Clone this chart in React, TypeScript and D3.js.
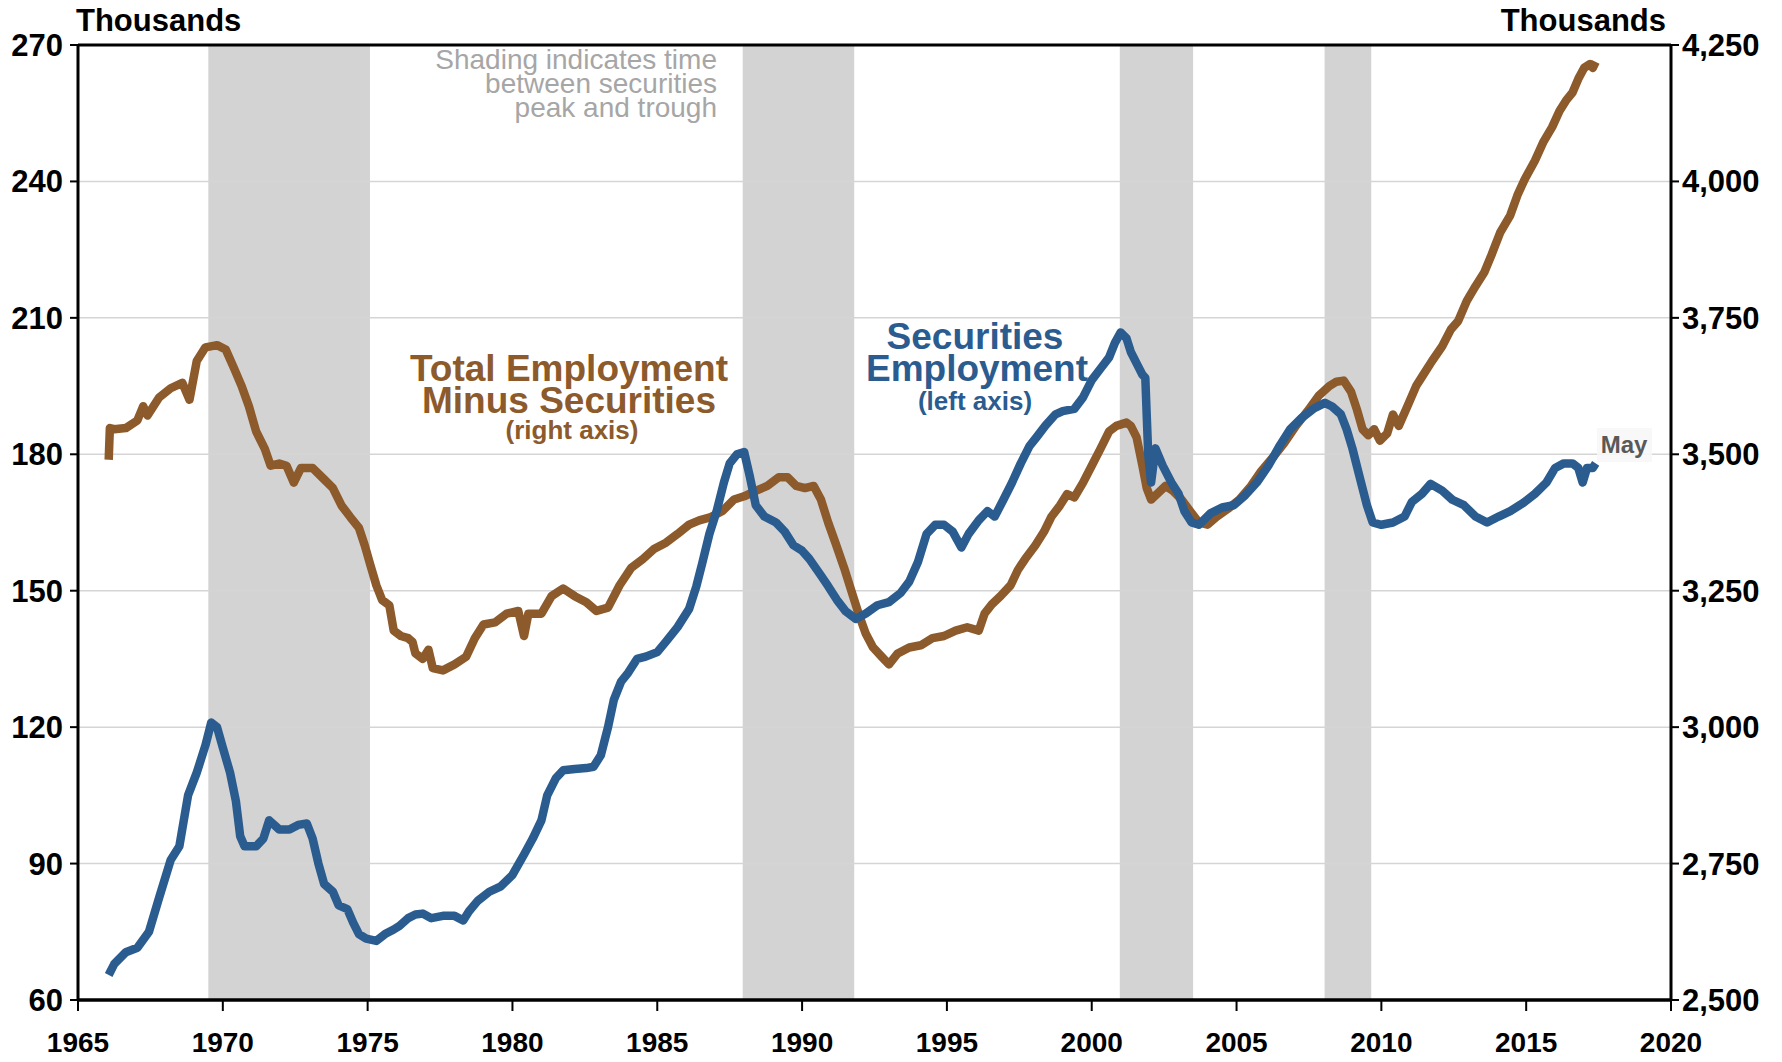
import React from "react";
import * as d3 from "d3";

// securities employment (left axis, thousands)
const secYears = [
  1966.06, 1966.25, 1966.65, 1967.05, 1967.45, 1967.8, 1968.2, 1968.5, 1968.8, 1969.1, 1969.4, 1969.6,
  1969.8, 1970.0, 1970.25, 1970.45, 1970.6, 1970.75, 1971.15, 1971.4, 1971.6, 1971.95, 1972.3, 1972.6,
  1972.9, 1973.1, 1973.3, 1973.5, 1973.8, 1974.0, 1974.3, 1974.5, 1974.7, 1974.95, 1975.3, 1975.6,
  1975.9, 1976.1, 1976.4, 1976.65, 1976.9, 1977.2, 1977.6, 1978.0, 1978.3, 1978.5, 1978.8, 1979.2,
  1979.6, 1980.0, 1980.4, 1980.7, 1981.0, 1981.2, 1981.5, 1981.75, 1982.15, 1982.55, 1982.8, 1983.05,
  1983.3, 1983.5, 1983.75, 1984.0, 1984.3, 1984.6, 1985.0, 1985.3, 1985.7, 1986.1, 1986.35, 1986.55,
  1986.8, 1987.05, 1987.3, 1987.5, 1987.75, 1988.0, 1988.2, 1988.4, 1988.7, 1989.1, 1989.4, 1989.7,
  1990.0, 1990.25, 1990.6, 1990.9, 1991.2, 1991.5, 1991.85, 1992.2, 1992.6, 1993.0, 1993.4, 1993.7,
  1994.0, 1994.3, 1994.6, 1994.9, 1995.2, 1995.5, 1995.75, 1996.1, 1996.4, 1996.65, 1996.95, 1997.25,
  1997.55, 1997.85, 1998.1, 1998.4, 1998.75, 1999.0, 1999.4, 1999.7, 2000.0, 2000.3, 2000.6, 2000.8,
  2001.0, 2001.2, 2001.35, 2001.55, 2001.75, 2001.85, 2001.95, 2002.05, 2002.2, 2002.45, 2002.75, 2003.0,
  2003.2, 2003.45, 2003.7, 2004.1, 2004.5, 2004.9, 2005.3, 2005.7, 2006.1, 2006.5, 2006.85, 2007.25,
  2007.65, 2008.05, 2008.3, 2008.6, 2008.8, 2009.0, 2009.25, 2009.5, 2009.7, 2010.0, 2010.4, 2010.8,
  2011.05, 2011.4, 2011.7, 2012.1, 2012.45, 2012.85, 2013.25, 2013.65, 2014.05, 2014.45, 2014.9, 2015.3,
  2015.7, 2016.0, 2016.3, 2016.6, 2016.8, 2016.95, 2017.1, 2017.3, 2017.4,
];
const secValues = [
  65.5, 67.9, 70.5, 71.5, 75, 82.5, 90.8, 93.8, 105, 110, 116, 121,
  120, 115.5, 110, 103.8, 96, 93.8, 93.8, 95.5, 99.5, 97.5, 97.5, 98.5,
  98.8, 95.5, 90, 85.5, 83.8, 80.8, 80, 77, 74.5, 73.5, 73, 74.5,
  75.5, 76.3, 78, 78.8, 79, 78, 78.5, 78.5, 77.5, 79.5, 81.8, 83.8,
  85, 87.5, 92, 95.5, 99.5, 105, 108.8, 110.5, 110.8, 111, 111.3, 113.8,
  120, 126, 130, 132, 135, 135.5, 136.5, 138.8, 142, 146, 151, 156,
  162.5, 167.5, 173.8, 178, 180, 180.5, 175, 168.8, 166.3, 165, 163, 160,
  158.8, 157, 153.8, 151, 148, 145.5, 143.8, 145, 146.8, 147.5, 149.5, 152,
  156.3, 162.5, 164.5, 164.5, 163, 159.5, 162.5, 165.5, 167.5, 166.3, 170, 173.8,
  178, 181.8, 183.8, 186.3, 188.8, 189.5, 190, 192.5, 196.3, 198.8, 201.3, 204.5,
  206.8, 205.5, 202.5, 200, 197.5, 196.8, 180, 173.8, 181.3, 177.5, 173.8, 171.3,
  167.5, 165, 164.5, 167, 168.3, 168.8, 171, 173.8, 177.5, 182, 185.5, 188,
  190, 191.3, 190.5, 188.8, 185.5, 181.3, 175, 168.8, 165, 164.5, 165, 166.3,
  169.5, 171.3, 173.5, 172, 170, 168.8, 166.3, 165, 166.3, 167.5, 169.3, 171.3,
  173.8, 177, 178, 178, 177, 173.8, 177, 177, 178,
];

// total employment minus securities (right axis, thousands)
const totYears = [
  1966.06, 1966.1, 1966.25, 1966.65, 1967.05, 1967.25, 1967.4, 1967.8, 1968.2, 1968.6, 1968.85, 1969.1,
  1969.4, 1969.8, 1970.1, 1970.4, 1970.65, 1970.9, 1971.15, 1971.45, 1971.65, 1971.95, 1972.2, 1972.45,
  1972.7, 1973.1, 1973.5, 1973.8, 1974.1, 1974.4, 1974.7, 1974.9, 1975.1, 1975.3, 1975.5, 1975.75,
  1975.9, 1976.15, 1976.4, 1976.55, 1976.65, 1976.9, 1977.1, 1977.25, 1977.6, 1978.0, 1978.4, 1978.7,
  1979.0, 1979.4, 1979.8, 1980.2, 1980.4, 1980.55, 1981.0, 1981.35, 1981.75, 1982.15, 1982.55, 1982.9,
  1983.3, 1983.7, 1984.1, 1984.5, 1984.9, 1985.3, 1985.7, 1986.1, 1986.45, 1986.85, 1987.25, 1987.65,
  1988.0, 1988.4, 1988.8, 1989.2, 1989.5, 1989.8, 1990.1, 1990.4, 1990.65, 1990.9, 1991.15, 1991.45,
  1991.7, 1991.95, 1992.2, 1992.45, 1992.75, 1993.0, 1993.3, 1993.7, 1994.1, 1994.5, 1994.9, 1995.3,
  1995.7, 1996.1, 1996.3, 1996.55, 1996.85, 1997.2, 1997.45, 1997.7, 1998.05, 1998.35, 1998.6, 1998.9,
  1999.15, 1999.4, 1999.7, 2000.0, 2000.3, 2000.6, 2000.85, 2001.2, 2001.35, 2001.55, 2001.75, 2001.9,
  2002.05, 2002.25, 2002.55, 2002.8, 2003.1, 2003.45, 2003.7, 2004.0, 2004.3, 2004.7, 2005.1, 2005.5,
  2005.85, 2006.25, 2006.65, 2007.05, 2007.45, 2007.85, 2008.2, 2008.45, 2008.7, 2008.95, 2009.15, 2009.35,
  2009.55, 2009.75, 2009.95, 2010.2, 2010.4, 2010.6, 2010.9, 2011.2, 2011.45, 2011.75, 2012.1, 2012.4,
  2012.65, 2012.95, 2013.25, 2013.55, 2013.8, 2014.1, 2014.45, 2014.7, 2014.95, 2015.3, 2015.6, 2015.9,
  2016.15, 2016.4, 2016.6, 2016.8, 2017.0, 2017.2, 2017.3, 2017.4,
];
const totValues = [
  3490, 3548, 3546, 3548, 3562, 3588, 3571, 3604, 3621, 3631, 3600, 3671,
  3696, 3700, 3692, 3656, 3625, 3588, 3542, 3510, 3479, 3483, 3479, 3448,
  3475, 3475, 3454, 3438, 3406, 3385, 3365, 3333, 3296, 3260, 3233, 3223,
  3177, 3167, 3163, 3156, 3135, 3125, 3142, 3108, 3104, 3115, 3129, 3163,
  3188, 3192, 3208, 3213, 3167, 3208, 3208, 3240, 3254, 3240, 3229, 3213,
  3219, 3260, 3292, 3308, 3327, 3338, 3354, 3371, 3379, 3385, 3396, 3417,
  3423, 3433, 3442, 3458, 3458, 3442, 3438, 3442, 3417, 3375, 3338, 3292,
  3250, 3208, 3171, 3146, 3129, 3115, 3135, 3146, 3150, 3163, 3167, 3177,
  3183, 3177, 3208, 3225, 3240, 3260, 3288, 3308, 3333, 3358, 3385, 3406,
  3427, 3421, 3448, 3479, 3510, 3542, 3552, 3558, 3552, 3531, 3479, 3438,
  3417, 3427, 3442, 3433, 3417, 3392, 3375, 3371, 3385, 3400, 3417, 3442,
  3469, 3494, 3521, 3552, 3579, 3608, 3625, 3633, 3635, 3615, 3583, 3546,
  3535, 3546, 3525, 3538, 3573, 3552, 3588, 3625, 3646, 3671, 3698, 3729,
  3744, 3781, 3808, 3833, 3865, 3906, 3938, 3975, 4004, 4038, 4073, 4100,
  4129, 4150, 4163, 4188, 4208, 4215, 4208, 4219,
];

// periods between securities peak and trough
const shadeStart = [1969.5, 1987.95, 2000.97, 2008.04];
const shadeEnd = [1975.08, 1991.8, 2003.5, 2009.65];

const yearTicks = [1965, 1970, 1975, 1980, 1985, 1990, 1995, 2000, 2005, 2010, 2015, 2020];
const leftTicks = [60, 90, 120, 150, 180, 210, 240, 270];
const rightTicks = [2500, 2750, 3000, 3250, 3500, 3750, 4000, 4250];

const W = 1782;
const H = 1062;
const m = { top: 45, right: 111, bottom: 62, left: 78 };
const FONT = "'Liberation Sans', Arial, Helvetica, sans-serif";
const BLUE = "#2b5c8f";
const BROWN = "#8c5a2b";

export default function App() {
  const x = d3.scaleLinear().domain([1965, 2020]).range([m.left, W - m.right]);
  const yL = d3.scaleLinear().domain([60, 270]).range([H - m.bottom, m.top]);
  const yR = d3.scaleLinear().domain([2500, 4250]).range([H - m.bottom, m.top]);

  const secLine = d3
    .line<number>()
    .x((d, i) => x(secYears[i]))
    .y((d) => yL(d));
  const totLine = d3
    .line<number>()
    .x((d, i) => x(totYears[i]))
    .y((d) => yR(d));

  const x0 = m.left;
  const x1 = W - m.right;
  const y0 = m.top;
  const y1 = H - m.bottom;
  const fmt = d3.format(",");

  return (
    <svg
      width={W}
      height={H}
      style={{ position: "absolute", left: 0, top: 0, background: "#fff" }}
      fontFamily={FONT}
    >
      {shadeStart.map((s, i) => (
        <rect key={i} x={x(s)} y={y0} width={x(shadeEnd[i]) - x(s)} height={y1 - y0} fill="#d3d3d3" />
      ))}
      {leftTicks.slice(1, -1).map((t) => (
        <line key={t} x1={x0} x2={x1} y1={yL(t)} y2={yL(t)} stroke="#d5d5d5" strokeWidth={1.5} />
      ))}

      <text fill="#a6a6a6" fontSize={28} textAnchor="end">
        <tspan x={717} y={69}>Shading indicates time</tspan>
        <tspan x={717} y={93}>between securities</tspan>
        <tspan x={717} y={117}>peak and trough</tspan>
      </text>

      <path d={totLine(totValues) || ""} fill="none" stroke={BROWN} strokeWidth={8.5} strokeLinejoin="round" />
      <path d={secLine(secValues) || ""} fill="none" stroke={BLUE} strokeWidth={8.5} strokeLinejoin="round" />

      <text fill={BROWN} fontWeight="bold" textAnchor="middle">
        <tspan x={569} y={381} fontSize={37}>Total Employment</tspan>
        <tspan x={569} y={413} fontSize={37}>Minus Securities</tspan>
        <tspan x={572} y={439} fontSize={26}>(right axis)</tspan>
      </text>
      <text fill={BLUE} fontWeight="bold" textAnchor="middle">
        <tspan x={975} y={349} fontSize={37}>Securities</tspan>
        <tspan x={977} y={381} fontSize={37}>Employment</tspan>
        <tspan x={975} y={410} fontSize={26}>(left axis)</tspan>
      </text>

      <rect x={1597} y={428} width={55} height={34} fill="#f7f7f7" opacity={0.9} />
      <text x={1624} y={453} fill="#595959" fontWeight="bold" fontSize={24} textAnchor="middle">
        May
      </text>

      {/* frame */}
      <line x1={x0} x2={x1} y1={y0} y2={y0} stroke="#000" strokeWidth={3} />
      <line x1={x0} x2={x1} y1={y1} y2={y1} stroke="#000" strokeWidth={3.5} />
      <line x1={x0} x2={x0} y1={y0} y2={y1} stroke="#000" strokeWidth={3} />
      <line x1={x1} x2={x1} y1={y0} y2={y1} stroke="#000" strokeWidth={3} />

      {leftTicks.map((t) => (
        <g key={t}>
          <line x1={x0 - 8} x2={x0} y1={yL(t)} y2={yL(t)} stroke="#000" strokeWidth={2} />
          <text x={63} y={yL(t) + 11} fontSize={31} fontWeight="bold" textAnchor="end">
            {t}
          </text>
        </g>
      ))}
      {rightTicks.map((t) => (
        <g key={t}>
          <line x1={x1} x2={x1 + 8} y1={yR(t)} y2={yR(t)} stroke="#000" strokeWidth={2} />
          <text x={1682} y={yR(t) + 11} fontSize={31} fontWeight="bold">
            {fmt(t)}
          </text>
        </g>
      ))}
      {yearTicks.map((t) => (
        <g key={t}>
          <line x1={x(t)} x2={x(t)} y1={y1} y2={y1 + 11} stroke="#000" strokeWidth={2} />
          <text x={x(t)} y={1052} fontSize={28} fontWeight="bold" textAnchor="middle">
            {t}
          </text>
        </g>
      ))}

      <text x={76} y={31} fontSize={31} fontWeight="bold">
        Thousands
      </text>
      <text x={1666} y={31} fontSize={31} fontWeight="bold" textAnchor="end">
        Thousands
      </text>
    </svg>
  );
}
